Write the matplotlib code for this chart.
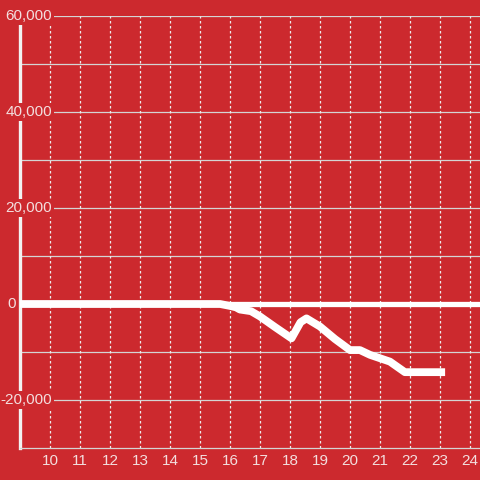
import matplotlib
matplotlib.use("Agg")
import matplotlib.pyplot as plt
import matplotlib.transforms as mtransforms

hours = [9.0, 15.67, 16.0, 16.2, 16.33, 16.7, 17.0, 17.5, 18.05, 18.35, 18.55,
         19.0, 19.5, 20.0, 20.33, 20.67, 21.33, 21.83, 23.17]
values = [0, 0, -400, -700, -1150, -1500, -2600, -4800, -7150, -3800, -3000,
          -4700, -7300, -9600, -9600, -10600, -12000, -14200, -14200]

x_ticks = list(range(10, 25))
y_grid = [-20000, -10000, 10000, 20000, 30000, 40000, 50000, 60000]
y_labels = {60000: "60,000", 40000: "40,000", 20000: "20,000", 0: "0", -20000: "-20,000"}

bg = "#cc292e"
txt = "#f3dede"

plt.rcParams["font.family"] = ["Liberation Sans", "DejaVu Sans"]

fig = plt.figure(figsize=(4.8, 4.8), dpi=100)
fig.patch.set_facecolor(bg)
ax = fig.add_axes([20 / 480, 32 / 480, 460 / 480, 432 / 480])
ax.set_facecolor(bg)
ax.set_xlim(9, 24.333)
ax.set_ylim(-30000, 60000)

# grid
for y in y_grid:
    ax.axhline(y, color="#d4d4d4", lw=0.9, zorder=1)
for x in x_ticks:
    ax.axvline(x, color="#ececec", lw=0.9, ls=(0, (2, 2)), zorder=1)
ax.axhline(0, color="white", lw=3.8, zorder=2)

ax.plot(hours, values, color="white", lw=5.6, solid_joinstyle="round",
        solid_capstyle="butt", zorder=3)

for s in ["top", "right"]:
    ax.spines[s].set_visible(False)
ax.spines["left"].set_color("#f2f2f2")
ax.spines["left"].set_linewidth(2.4)
ax.spines["bottom"].set_color("#d4d4d4")
ax.spines["bottom"].set_linewidth(0.9)

ax.set_yticks([])
ax.set_xticks(x_ticks)
ax.set_xticklabels([str(h) for h in x_ticks])
ax.tick_params(axis="x", length=0, pad=4, labelsize=11, labelcolor=txt)

trans = mtransforms.blended_transform_factory(ax.transAxes, ax.transData)
for v, lab in y_labels.items():
    xr = (16 - 20) / 460 if v == 0 else (52 - 20) / 460
    ax.text(xr, v, lab, transform=trans, ha="right", va="center",
            fontsize=11, color=txt, clip_on=False, zorder=5,
            bbox=dict(facecolor=bg, edgecolor="none", pad=1.5))

fig.savefig("out.png", dpi=100, facecolor=bg)
